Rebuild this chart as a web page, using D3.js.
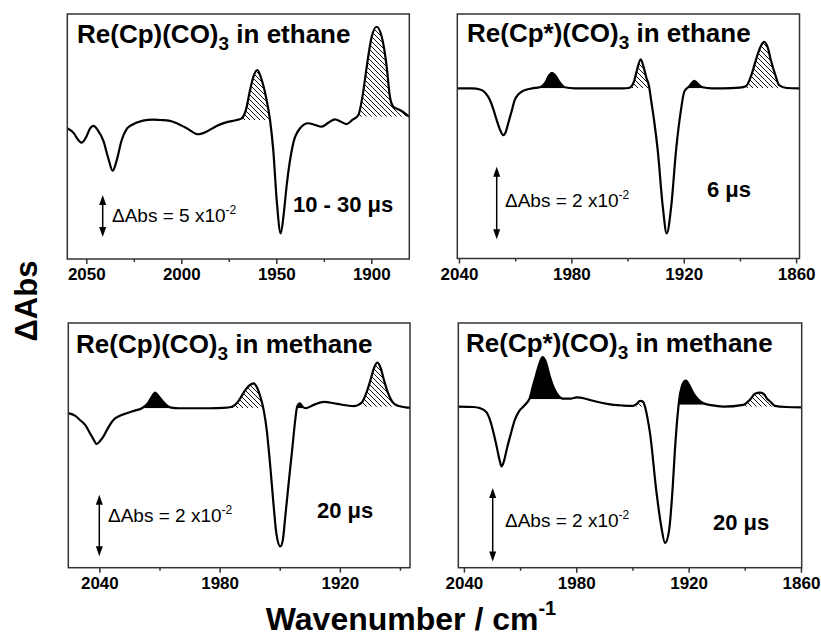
<!DOCTYPE html>
<html>
<head>
<meta charset="utf-8">
<script src="https://cdnjs.cloudflare.com/ajax/libs/d3/7.8.5/d3.min.js"></script>
<style>
  body { margin: 0; background: #fff; }
  svg { display: block; font-family: "Liberation Sans", Arial, sans-serif; }
</style>
</head>
<body>
<div id="chart"></div>
<script>
// spectra: [wavenumber / cm-1, dAbs in units of 1e-2]
const cpEthane = [
  [2060,-0.99],[2056.5,-1.6],[2054.5,-2.3],[2052.4,-2.7],[2050,-2.0],[2048,-1.0],[2046.3,-0.71],
  [2044,-1.2],[2041,-2.5],[2038.5,-4.5],[2036.1,-6.04],[2034,-4.8],[2031.5,-2.5],[2028.5,-1.0],
  [2026.1,-0.6],[2020.2,-0.08],[2015,0.05],[2011.2,0],[2006,-0.1],[2002.4,-0.39],[1997,-1.0],
  [1991.1,-1.7],[1986,-1.3],[1981.4,-0.71],[1976,-0.25],[1970.8,0],[1968.2,0.2],[1966,1.2],
  [1963.8,3.57],[1962,5.2],[1960,5.95],[1958,5.0],[1955.1,2.38],[1953.3,0],[1951.6,-3.57],
  [1949.8,-9.5],[1947.7,-13.49],[1946,-11],[1944.6,-7.9],[1941.1,-2.77],[1937.5,-0.99],
  [1933.2,-0.39],[1929.5,-0.6],[1926.1,-0.8],[1922.5,-0.3],[1919.1,0.08],[1916,-0.2],[1913,-0.48],
  [1910,0],[1906.8,0.6],[1904.5,3.0],[1902.4,6.35],[1899.8,9.9],[1897.2,11.1],[1894.5,9.9],
  [1891.9,6.35],[1890.2,2.77],[1888.4,1.58],[1885,1.19],[1880,0.4]
];
const cpStarEthane = [
  [2040.9,0],[2033,0],[2028.8,-0.03],[2026,-0.12],[2023.5,-0.32],[2021.5,-0.6],[2019.9,-0.87],
  [2018,-1.15],[2016.4,-1.29],[2015,-1.2],[2013.7,-0.96],[2012,-0.65],[2010.2,-0.32],[2008,-0.15],
  [2005.8,-0.07],[2001,0],[1996.9,0.03],[1994,0.15],[1992,0.35],[1990.3,0.43],[1988.5,0.35],
  [1986,0.15],[1983.6,0.03],[1978,0],[1960,0],[1952.5,0],[1949.5,0.01],[1948,0.05],[1946.5,0.2],
  [1945,0.5],[1943,0.8],[1941.5,0.6],[1940,0.3],[1938.5,0.05],[1937.5,-0.3],[1935.8,-0.9],[1933.9,-1.7],
  [1931.2,-3.26],[1929.1,-4.0],[1926.7,-3.26],[1924.1,-1.7],[1921.5,-0.6],[1919.7,-0.09],
  [1917,0.06],[1914.3,0.21],[1912,0.1],[1909.9,0.03],[1905,0],[1899.3,0],[1890,0.02],[1886.8,0.06],
  [1884,0.35],[1881.5,0.78],[1879,1.15],[1877.1,1.28],[1875,1.1],[1873.5,0.78],[1871,0.35],
  [1869.1,0.09],[1865,0.01],[1858.2,0]
];
const cpMethane = [
  [2055.5,-0.16],[2052,-0.25],[2049.7,-0.38],[2047,-0.55],[2044.7,-0.81],[2043,-1.0],[2041.3,-1.16],
  [2039.5,-1.05],[2038,-0.92],[2035.5,-0.62],[2033,-0.38],[2030,-0.25],[2026.3,-0.16],[2022,-0.07],
  [2018.8,0],[2016,0.15],[2014,0.35],[2012.2,0.51],[2010.5,0.4],[2008,0.2],[2004.7,0.03],[2000,0],
  [1993,0],[1985,0],[1978,0.01],[1973.8,0.05],[1971,0.2],[1969,0.4],[1967.2,0.59],[1965,0.75],
  [1963,0.81],[1961.5,0.7],[1959.7,0.38],[1958,-0.06],[1956.5,-0.7],[1954.7,-1.9],[1953,-3.2],
  [1951.7,-4.06],[1949.7,-4.49],[1948.5,-4.3],[1947.2,-3.5],[1945.5,-2.4],[1943.8,-1.35],
  [1942.3,-0.4],[1941.3,0.05],[1940,0.16],[1938.6,0.05],[1937.2,0],[1933,0.11],[1928,0.21],
  [1921.3,0.14],[1913,0.07],[1910.5,0.12],[1908.8,0.21],[1906.5,0.55],[1904.7,0.92],[1903,1.3],
  [1901.3,1.48],[1899.6,1.3],[1898,0.92],[1896,0.5],[1893.8,0.21],[1891,0.08],[1887.2,0.03],[1885,0.02]
];
const cpStarMethane = [
  [2043,0],[2035,-0.01],[2031.5,-0.04],[2028,-0.15],[2026.1,-0.36],[2024,-0.75],[2022.5,-1.09],
  [2021,-1.45],[2019.9,-1.63],[2018.7,-1.5],[2017.2,-1.18],[2015,-0.75],[2012.8,-0.36],[2010.5,-0.12],
  [2008.3,0],[2006.5,0.1],[2005.1,0.2],[2003,0.59],[2001.2,0.91],[1999.5,1.2],[1998,1.35],[1996.5,1.25],
  [1994.1,0.82],[1992.3,0.55],[1990.5,0.37],[1987,0.22],[1983,0.22],[1979.8,0.25],[1976,0.23],
  [1972.7,0.18],[1966,0.1],[1960.2,0.05],[1955,0.03],[1949.6,0.02],[1947.5,0.08],[1946,0.16],
  [1944.5,0.14],[1943.3,0],[1942,-0.3],[1940.6,-0.73],[1937.1,-2.36],[1934.5,-3.3],[1932.6,-3.72],
  [1930.5,-3.4],[1928.5,-2.2],[1927.3,-1.18],[1926,-0.3],[1925,0.2],[1923.7,0.54],[1922.5,0.68],
  [1921.4,0.71],[1919.8,0.6],[1917.5,0.37],[1915,0.2],[1912,0.09],[1908,0.04],[1901.5,0],
  [1890.8,0.05],[1887,0.2],[1884.6,0.35],[1881.9,0.38],[1880,0.35],[1878.3,0.23],[1876,0.12],
  [1873.9,0.02],[1868,-0.01],[1859.6,-0.02]
];

// shaded bands: [from, to, base level, fill]
const cpEthaneBands = [[1968.5,1953.3,0,"hatch"],[1907,1880,0.4,"hatch"]];
const cpStarEthaneBands = [[1997,1983.5,0,"black"],[1948.5,1938.5,0,"hatch"],[1917.5,1909.5,0,"black"],[1887,1869,0,"hatch"]];
const cpMethaneBands = [[2019,2004.5,0,"black"],[1974,1958,0,"hatch"],[1941.5,1937,0,"black"],[1909,1893.5,0.05,"hatch"]];
const cpStarMethaneBands = [[2005.5,1986.5,0.2,"black"],[1948,1943.5,0,"hatch"],[1925.3,1911,0.05,"black"],[1890.5,1872.5,0,"hatch"]];

const titles = [
  ["Re(Cp)(CO)", "3", " in ethane"],
  ["Re(Cp*)(CO)", "3", " in ethane"],
  ["Re(Cp)(CO)", "3", " in methane"],
  ["Re(Cp*)(CO)", "3", " in methane"]
];
const times = ["10 - 30 \u03bcs", "6 \u03bcs", "20 \u03bcs", "20 \u03bcs"];
const barSizes = [5, 2, 2, 2];
const majorTicks = [[2050,2000,1950,1900],[2040,1980,1920,1860],[2040,1980,1920],[2040,1980,1920,1860]];
const minorTicks = [[2025,1975,1925],[2010,1950,1890],[2010,1950,1890],[2010,1950,1890]];

const W = 821, H = 638;

const panels = [
  {spec: cpEthane, bands: cpEthaneBands, left: 67.3, right: 409.3, top: 14, bottom: 259,
   wn: [2060, 1880], abs: [12.62, -16.55], tx: 77, ty: 43, timeX: 293, timeY: 212,
   barTop: -8.93, barX: 102.7, labX: 112, labY: 222},
  {spec: cpStarEthane, bands: cpStarEthaneBands, left: 457.3, right: 799.5, top: 14, bottom: 258.5,
   wn: [2040.9, 1858.2], abs: [2.05, -4.69], tx: 467, ty: 42, timeX: 707, timeY: 197,
   barTop: -2.16, barX: 496.7, labX: 505, labY: 207},
  {spec: cpMethane, bands: cpMethaneBands, left: 68.3, right: 410, top: 323, bottom: 567.7,
   wn: [2055.5, 1885], abs: [2.77, -5.18], tx: 76, ty: 353, timeX: 317, timeY: 518,
   barTop: -2.81, barX: 99.3, labX: 108, labY: 522},
  {spec: cpStarMethane, bands: cpStarMethaneBands, left: 458.3, right: 801.7, top: 323, bottom: 567.7,
   wn: [2043, 1859.6], abs: [2.28, -4.39], tx: 466, ty: 352, timeX: 713, timeY: 530,
   barTop: -2.22, barX: 492.7, labX: 505, labY: 527}
];

const svg = d3.select("#chart").append("svg")
    .attr("width", W)
    .attr("height", H);

const defs = svg.append("defs");

defs.append("pattern")
    .attr("id", "hatch")
    .attr("patternUnits", "userSpaceOnUse")
    .attr("width", 5)
    .attr("height", 5)
  .append("path")
    .attr("d", "M-1,-1L6,6M-1,4L1,6M4,-1L6,1")
    .attr("stroke", "#111")
    .attr("stroke-width", 1);

panels.forEach((p, i) => {
    const x = d3.scaleLinear().domain(p.wn).range([p.left, p.right]);
    const y = d3.scaleLinear().domain(p.abs).range([p.top, p.bottom]);
    const g = svg.append("g");

    // shaded bands under the peaks
    p.bands.forEach((b, j) => {
        const id = `clip-${i}-${j}`;
        defs.append("clipPath").attr("id", id)
          .append("rect")
            .attr("x", x(b[0]))
            .attr("y", p.top)
            .attr("width", x(b[1]) - x(b[0]))
            .attr("height", y(b[2]) - p.top);

        const area = d3.area()
            .x(d => x(d[0]))
            .y0(y(b[2]))
            .y1(d => y(d[1]))
            .curve(d3.curveMonotoneX);

        g.append("path")
            .datum(p.spec)
            .attr("clip-path", `url(#${id})`)
            .attr("d", area)
            .attr("fill", b[3] === "black" ? "#000" : "url(#hatch)");
    });

    // spectrum
    const line = d3.line()
        .x(d => x(d[0]))
        .y(d => y(d[1]))
        .curve(d3.curveMonotoneX);

    g.append("path")
        .datum(p.spec)
        .attr("d", line)
        .attr("fill", "none")
        .attr("stroke", "#000")
        .attr("stroke-width", 2.2)
        .attr("stroke-linejoin", "round");

    // frame
    g.append("rect")
        .attr("x", p.left)
        .attr("y", p.top)
        .attr("width", p.right - p.left)
        .attr("height", p.bottom - p.top)
        .attr("fill", "none")
        .attr("stroke", "#333")
        .attr("stroke-width", 1.5);

    // x axis
    const axis = g.append("g")
        .attr("transform", `translate(0,${p.bottom})`)
        .call(d3.axisBottom(x).tickValues(majorTicks[i]).tickFormat(d3.format("d"))
            .tickSize(5).tickSizeOuter(0).tickPadding(4));
    axis.select(".domain").remove();
    axis.selectAll("line").attr("stroke", "#333").attr("stroke-width", 1.5);
    axis.selectAll("text")
        .attr("font-size", "17px")
        .attr("font-weight", "bold")
        .attr("fill", "#000")
        .attr("font-family", "Liberation Sans, Arial, sans-serif");

    const minor = g.append("g")
        .attr("transform", `translate(0,${p.bottom})`)
        .call(d3.axisBottom(x).tickValues(minorTicks[i]).tickFormat("").tickSize(3).tickSizeOuter(0));
    minor.select(".domain").remove();
    minor.selectAll("line").attr("stroke", "#333").attr("stroke-width", 1.5);

    // title
    const t = g.append("text")
        .attr("x", p.tx)
        .attr("y", p.ty)
        .attr("font-size", "26px")
        .attr("font-weight", "bold");
    t.append("tspan").text(titles[i][0]);
    t.append("tspan").attr("font-size", "19px").attr("dy", 7).text(titles[i][1]);
    t.append("tspan").attr("dy", -7).text(titles[i][2]);

    // time label
    g.append("text")
        .attr("x", p.timeX)
        .attr("y", p.timeY)
        .attr("font-size", "22px")
        .attr("font-weight", "bold")
        .text(times[i]);

    // scale bar
    const yA = y(p.barTop), yB = y(p.barTop - barSizes[i]);
    g.append("line")
        .attr("x1", p.barX).attr("x2", p.barX)
        .attr("y1", yA + 6).attr("y2", yB - 6)
        .attr("stroke", "#000")
        .attr("stroke-width", 1.5);
    g.append("path")
        .attr("d", `M${p.barX},${yA}L${p.barX - 3.5},${yA + 10}L${p.barX + 3.5},${yA + 10}Z`)
        .attr("fill", "#000");
    g.append("path")
        .attr("d", `M${p.barX},${yB}L${p.barX - 3.5},${yB - 10}L${p.barX + 3.5},${yB - 10}Z`)
        .attr("fill", "#000");

    const lab = g.append("text")
        .attr("x", p.labX)
        .attr("y", p.labY)
        .attr("font-size", "19px");
    lab.append("tspan").text(`\u0394Abs = ${barSizes[i]} x10`);
    lab.append("tspan").attr("font-size", "12px").attr("dy", -8).text("-2");
});

// shared axis titles
svg.append("text")
    .attr("transform", "translate(37,301) rotate(-90)")
    .attr("text-anchor", "middle")
    .attr("font-size", "31px")
    .attr("font-weight", "bold")
    .text("\u0394Abs");

const xt = svg.append("text")
    .attr("x", 411)
    .attr("y", 630)
    .attr("text-anchor", "middle")
    .attr("font-size", "32px")
    .attr("font-weight", "bold");
xt.append("tspan").text("Wavenumber / cm");
xt.append("tspan").attr("font-size", "20px").attr("dy", -15).text("-1");
</script>
</body>
</html>
